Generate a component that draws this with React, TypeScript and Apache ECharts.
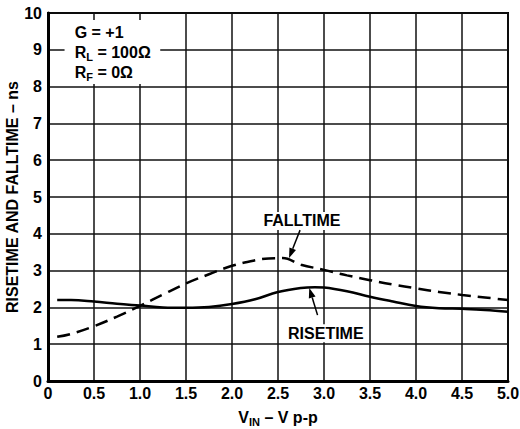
import React, { useEffect, useRef } from "react";
import * as echarts from "echarts";

const xTickLabels = ["0", "0.5", "1.0", "1.5", "2.0", "2.5", "3.0", "3.5", "4.0", "4.5", "5.0"];
const yTickLabels = ["0", "1", "2", "3", "4", "5", "6", "7", "8", "9", "10"];

const riseX = [0.1, 0.25, 0.5, 0.75, 1.0, 1.25, 1.5, 1.75, 2.0, 2.25, 2.5, 2.75, 2.9, 3.0, 3.25, 3.5, 3.75, 4.0, 4.25, 4.5, 4.75, 5.0];
const riseY = [2.2, 2.2, 2.16, 2.1, 2.05, 2.0, 1.99, 2.01, 2.09, 2.22, 2.42, 2.53, 2.55, 2.54, 2.44, 2.29, 2.16, 2.04, 1.98, 1.96, 1.93, 1.88];

const fallX = [0.1, 0.25, 0.5, 0.75, 1.0, 1.25, 1.5, 1.75, 2.0, 2.25, 2.4, 2.55, 2.75, 3.0, 3.25, 3.5, 3.75, 4.0, 4.25, 4.5, 4.75, 5.0];
const fallY = [1.2, 1.28, 1.49, 1.75, 2.04, 2.35, 2.65, 2.9, 3.13, 3.28, 3.33, 3.34, 3.16, 3.02, 2.87, 2.74, 2.62, 2.52, 2.42, 2.34, 2.27, 2.2];

const FONT = "'Liberation Sans', Arial, Helvetica, sans-serif";

// annotation anchors in data coordinates
const noteBoxFrom = [0.18, 9.81];
const noteBoxTo = [1.22, 8.07];
const noteTextAt = [0.29, 9.75];
const fallLabelAt = [2.76, 4.35];
const fallArrowFrom = [2.74, 4.1];
const fallArrowTo = [2.62, 3.34];
const riseLabelAt = [3.02, 1.3];
const riseArrowFrom = [2.93, 1.79];
const riseArrowTo = [2.84, 2.53];

function arrow(from: number[], to: number[]) {
  const dx = to[0] - from[0];
  const dy = to[1] - from[1];
  const len = Math.hypot(dx, dy) || 1;
  const ux = dx / len;
  const uy = dy / len;
  const L = 10;
  const W = 3.5;
  const bx = to[0] - ux * L;
  const by = to[1] - uy * L;
  const nx = -uy;
  const ny = ux;
  return [
    {
      type: "line",
      z: 20,
      shape: { x1: from[0], y1: from[1], x2: bx, y2: by },
      style: { stroke: "#000", lineWidth: 1.5 },
    },
    {
      type: "polygon",
      z: 20,
      shape: {
        points: [
          [to[0], to[1]],
          [bx + nx * W, by + ny * W],
          [bx - nx * W, by - ny * W],
        ],
      },
      style: { fill: "#000" },
    },
  ];
}

export default function App() {
  const ref = useRef<HTMLDivElement>(null);
  useEffect(() => {
    if (!ref.current) return;
    const chart = echarts.init(ref.current, undefined, { renderer: "svg" });
    chart.setOption({
      animation: false,
      backgroundColor: "#fff",
      grid: {
        left: 48,
        right: 12,
        top: 13,
        bottom: 48,
        containLabel: false,
        outerBoundsMode: "none",
        show: true,
        borderColor: "#000",
        borderWidth: 2,
        backgroundColor: "transparent",
      },
      xAxis: {
        type: "value",
        min: 0,
        max: 5,
        interval: 0.5,
        axisLine: { show: true, onZero: false, lineStyle: { color: "#000", width: 3 } },
        axisTick: { show: false },
        splitLine: { show: true, lineStyle: { color: "#111", width: 1.5 } },
        axisLabel: {
          margin: 4,
          color: "#000",
          fontFamily: FONT,
          fontWeight: "bold",
          fontSize: 16,
          formatter: (v: number) => xTickLabels[Math.round(v / 0.5)] ?? "",
        },
        name: "{a|V}{s|IN}{a| – V p-p}",
        nameLocation: "middle",
        nameGap: 26,
        nameMoveOverlap: false,
        nameTextStyle: {
          rich: {
            a: { fontFamily: FONT, fontWeight: "bold", fontSize: 16, color: "#000", lineHeight: 20 },
            s: { fontFamily: FONT, fontWeight: "bold", fontSize: 11, color: "#000", lineHeight: 10, verticalAlign: "bottom" },
          },
        },
      },
      yAxis: {
        type: "value",
        min: 0,
        max: 10,
        interval: 1,
        axisLine: { show: true, onZero: false, lineStyle: { color: "#000", width: 3 } },
        axisTick: { show: false },
        splitLine: { show: true, lineStyle: { color: "#111", width: 1.5 } },
        axisLabel: {
          margin: 6,
          color: "#000",
          fontFamily: FONT,
          fontWeight: "bold",
          fontSize: 16,
          formatter: (v: number) => yTickLabels[Math.round(v)] ?? "",
        },
        name: "RISETIME AND FALLTIME – ns",
        nameLocation: "middle",
        nameGap: 28,
        nameMoveOverlap: false,
        nameTextStyle: { fontFamily: FONT, fontWeight: "bold", fontSize: 16, color: "#000" },
      },
      series: [
        {
          name: "RISETIME",
          type: "line",
          smooth: 0.4,
          showSymbol: false,
          lineStyle: { color: "#000", width: 2.5 },
          data: riseX.map((x, i) => [x, riseY[i]]),
          z: 5,
        },
        {
          name: "FALLTIME",
          type: "line",
          smooth: 0.4,
          showSymbol: false,
          lineStyle: { color: "#000", width: 2.5, type: [13, 7] },
          data: fallX.map((x, i) => [x, fallY[i]]),
          z: 5,
        },
      ],
    });

    const px = (p: number[]) => chart.convertToPixel({ gridIndex: 0 }, p) as number[];
    const b0 = px(noteBoxFrom);
    const b1 = px(noteBoxTo);
    const nt = px(noteTextAt);
    const fl = px(fallLabelAt);
    const rl = px(riseLabelAt);
    const richNote = {
      a: { fontFamily: FONT, fontWeight: "bold", fontSize: 16, fill: "#000", lineHeight: 20 },
      s: { fontFamily: FONT, fontWeight: "bold", fontSize: 11, fill: "#000", lineHeight: 10, verticalAlign: "bottom" },
    };
    chart.setOption({
      graphic: [
        {
          type: "rect",
          z: 15,
          shape: { x: b0[0], y: b0[1], width: b1[0] - b0[0], height: b1[1] - b0[1] },
          style: { fill: "#fff" },
        },
        {
          type: "text",
          z: 16,
          x: nt[0],
          y: nt[1],
          style: {
            text: "{a|G = +1}\n{a|R}{s|L}{a| = 100Ω}\n{a|R}{s|F}{a| = 0Ω}",
            rich: richNote,
            align: "left",
            verticalAlign: "top",
          },
        },
        {
          type: "rect",
          z: 15,
          shape: { x: fl[0] - 42, y: fl[1] - 9, width: 84, height: 18 },
          style: { fill: "#fff" },
        },
        {
          type: "text",
          z: 16,
          x: fl[0],
          y: fl[1],
          style: {
            text: "FALLTIME",
            fontFamily: FONT,
            fontWeight: "bold",
            fontSize: 16,
            fill: "#000",
            align: "center",
            verticalAlign: "middle",
          },
        },
        {
          type: "rect",
          z: 15,
          shape: { x: rl[0] - 41, y: rl[1] - 9, width: 82, height: 18 },
          style: { fill: "#fff" },
        },
        {
          type: "text",
          z: 16,
          x: rl[0],
          y: rl[1],
          style: {
            text: "RISETIME",
            fontFamily: FONT,
            fontWeight: "bold",
            fontSize: 16,
            fill: "#000",
            align: "center",
            verticalAlign: "middle",
          },
        },
        ...arrow(px(fallArrowFrom), px(fallArrowTo)),
        ...arrow(px(riseArrowFrom), px(riseArrowTo)),
      ],
    });

    return () => chart.dispose();
  }, []);
  return (
    <div
      ref={ref}
      style={{ position: "fixed", left: 0, top: 0, width: 520, height: 429, background: "#fff" }}
    />
  );
}
